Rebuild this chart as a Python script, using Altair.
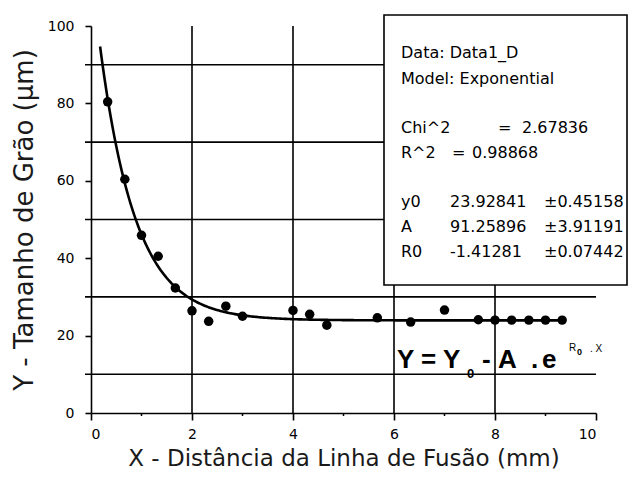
import altair as alt
import pandas as pd

# Measured data points
x_vals = [0.33, 0.67, 1.0, 1.33, 1.67, 2.0, 2.33, 2.67, 3.0, 4.0, 4.33, 4.67,
          5.67, 6.33, 7.0, 7.67, 8.0, 8.33, 8.67, 9.0, 9.33]
y_vals = [80.4, 60.4, 45.9, 40.5, 32.3, 26.4, 23.7, 27.6, 25.0, 26.5, 25.5, 22.7,
          24.6, 23.5, 26.6, 24.1, 24.0, 24.0, 24.0, 24.0, 24.0]

# Fit parameters (from the annotation box)
fit_y0 = 23.92841
fit_A = 91.25896
fit_R0 = -1.41281
fit_range = [0.18, 9.37]

x_ticks = [0, 2, 4, 6, 8, 10]
x_minor = [1, 3, 5, 7, 9]
y_ticks = [0, 20, 40, 60, 80, 100]
grid_y = [10, 30, 50, 70, 90]
grid_x = [2, 4, 6, 8]

box_lines = [
    {"t": "Data: Data1_D", "col": 0, "row": 0},
    {"t": "Model: Exponential", "col": 0, "row": 1},
    {"t": "Chi^2", "col": 0, "row": 3},
    {"t": "=", "col": 97, "row": 3},
    {"t": "2.67836", "col": 121, "row": 3},
    {"t": "R^2", "col": 0, "row": 4},
    {"t": "=", "col": 51, "row": 4},
    {"t": "0.98868", "col": 71, "row": 4},
    {"t": "y0", "col": 0, "row": 6},
    {"t": "23.92841", "col": 49, "row": 6},
    {"t": "±0.45158", "col": 143, "row": 6},
    {"t": "A", "col": 0, "row": 7},
    {"t": "91.25896", "col": 49, "row": 7},
    {"t": "±3.91191", "col": 143, "row": 7},
    {"t": "R0", "col": 0, "row": 8},
    {"t": "-1.41281", "col": 49, "row": 8},
    {"t": "±0.07442", "col": 143, "row": 8},
]

eq_texts = ["Y = Y", "0", "-", "A", ".", "e", "R", "0", ". X"]
eq_x = [306, 376, 391, 407, 440, 451, 478, 486, 499]
eq_y = [342, 352, 342, 342, 342, 342, 325, 329, 326]
eq_size = [26, 13, 26, 26, 26, 26, 10, 9, 10]
eq_weight = ["bold", "bold", "bold", "bold", "bold", "bold", "normal", "bold", "normal"]

W, H = 505, 387
FONT = "DejaVu Sans"
EQFONT = "Liberation Sans"

xs = alt.Scale(domain=[0, 10], nice=False, zero=False)
ys = alt.Scale(domain=[0, 100], nice=False, zero=False)

pts_df = pd.DataFrame({"x": x_vals, "y": y_vals})

# Gridlines
hgrid = alt.Chart(pd.DataFrame({"y": grid_y})).mark_rule(color="black", strokeWidth=1.6).encode(
    y=alt.Y("y:Q", scale=ys), x=alt.value(-6), x2=alt.value(W)
)
vgrid = alt.Chart(pd.DataFrame({"x": grid_x})).mark_rule(color="black", strokeWidth=1.6).encode(
    x=alt.X("x:Q", scale=xs), y=alt.value(0), y2=alt.value(H)
)
minor = alt.Chart(pd.DataFrame({"x": x_minor})).mark_rule(color="black", strokeWidth=1.5).encode(
    x=alt.X("x:Q", scale=xs), y=alt.value(H), y2=alt.value(H + 3)
)

# Fit curve from the model parameters
fit = alt.Chart(alt.sequence(fit_range[0], fit_range[1] + 0.001, 0.03, as_="x")).transform_calculate(
    y=f"{fit_y0} + {fit_A} * exp({fit_R0} * datum.x)"
).mark_line(color="black", strokeWidth=2.6).encode(
    x=alt.X("x:Q", scale=xs,
            axis=alt.Axis(values=x_ticks, format="d", grid=False, tickSize=7, tickWidth=1.6,
                          tickColor="black", domainColor="black", domainWidth=1.6,
                          labelFont=FONT, labelFontSize=14, labelColor="black", labelPadding=7,
                          title="X - Distância da Linha de Fusão (mm)", titleFont=FONT,
                          titleFontSize=23, titleFontWeight="normal", titleColor="#1a1a1a",
                          titleY=52, titleBaseline="alphabetic")),
    y=alt.Y("y:Q", scale=ys,
            axis=alt.Axis(values=y_ticks, format="d", grid=False, tickSize=6, tickWidth=1.6,
                          tickColor="black", domainColor="black", domainWidth=1.6,
                          labelFont=FONT, labelFontSize=14, labelColor="black", labelPadding=11,
                          title="Y - Tamanho de Grão (µm)", titleFont=FONT, titleFontSize=26,
                          titleFontWeight="normal", titleColor="#1a1a1a", titleAngle=270,
                          titleX=-59, titleY=H / 2, titleAlign="center",
                          titleBaseline="alphabetic")),
)

points = alt.Chart(pts_df).mark_point(filled=True, color="black", size=90, opacity=1).encode(
    x=alt.X("x:Q", scale=xs), y=alt.Y("y:Q", scale=ys)
)

# Annotation box
box = alt.Chart(pd.DataFrame({"a": [0]})).mark_rect(
    fill="white", stroke="black", strokeWidth=1.6
).encode(x=alt.value(293), x2=alt.value(536), y=alt.value(-11), y2=alt.value(259))

box_df = pd.DataFrame(box_lines)
box_df["px"] = 310 + box_df["col"]
row_y = [27, 53, 0, 102, 127, 0, 176, 201, 226]
box_df["py"] = [row_y[r] for r in box_df["row"]]
box_text = alt.Chart(box_df).mark_text(
    align="left", baseline="middle", font=FONT, fontSize=16, color="black"
).encode(
    x=alt.X("px:Q", scale=None), y=alt.Y("py:Q", scale=None), text="t:N"
)

# Equation
eq_df = pd.DataFrame({"t": eq_texts, "px": eq_x, "py": eq_y, "fs": eq_size, "fw": eq_weight})
eq_bold = alt.Chart(eq_df[eq_df["fw"] == "bold"]).mark_text(
    align="left", baseline="alphabetic", font=EQFONT, fontWeight="bold", color="black"
).encode(x=alt.X("px:Q", scale=None), y=alt.Y("py:Q", scale=None), text="t:N",
         size=alt.Size("fs:Q", scale=None, legend=None))
eq_norm = alt.Chart(eq_df[eq_df["fw"] == "normal"]).mark_text(
    align="left", baseline="alphabetic", font=EQFONT, color="black"
).encode(x=alt.X("px:Q", scale=None), y=alt.Y("py:Q", scale=None), text="t:N",
         size=alt.Size("fs:Q", scale=None, legend=None))

chart = alt.layer(hgrid, vgrid, minor, fit, points, box, box_text, eq_bold, eq_norm).properties(
    width=W, height=H,
    autosize=alt.AutoSizeParams(type="none"),
    padding={"left": 83, "top": 18, "right": 34, "bottom": 57},
    background="white",
).configure_view(stroke=None)

chart.save("out.html", embed_options={"renderer": "svg", "actions": False})
